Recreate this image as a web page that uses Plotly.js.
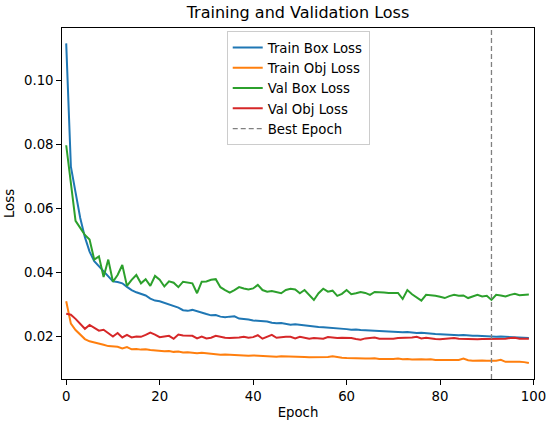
<!DOCTYPE html>
<html>
<head>
<meta charset="utf-8">
<script src="https://cdn.plot.ly/plotly-3.0.1.min.js"></script>
<style>html,body{margin:0;padding:0;background:#fff;}#chart{width:550px;height:425px;}</style>
</head>
<body>
<div id="chart"></div>
<script>
const epochs = Array.from({length: 100}, (_, i) => i);

const trainBoxLoss = [
0.1115,0.0730,0.0650,0.0570,0.0510,0.0465,0.0435,0.0420,0.0405,0.0390,
0.0372,0.0370,0.0366,0.0355,0.0345,0.0338,0.0332,0.0328,0.0318,0.0312,
0.0310,0.0305,0.0300,0.0296,0.0290,0.0282,0.0280,0.0283,0.0278,0.0274,
0.0270,0.0266,0.0267,0.0262,0.0260,0.0262,0.0263,0.0256,0.0255,0.0253,
0.0250,0.0249,0.0246,0.0247,0.0243,0.0241,0.0242,0.0240,0.0237,0.0238,
0.0236,0.0235,0.0233,0.0231,0.0230,0.0229,0.0228,0.0228,0.0226,0.0225,
0.0223,0.0221,0.0222,0.0220,0.0219,0.0220,0.0218,0.0216,0.0217,0.0215,
0.0214,0.0214,0.0213,0.0214,0.0212,0.0211,0.0212,0.0210,0.0209,0.0208,
0.0207,0.0206,0.0206,0.0205,0.0204,0.0205,0.0203,0.0202,0.0202,0.0201,
0.0200,0.0200,0.0199,0.0200,0.0199,0.0198,0.0199,0.0197,0.0196,0.0195];

const trainObjLoss = [
0.0310,0.0240,0.0220,0.0205,0.0192,0.0185,0.0182,0.0178,0.0174,0.0170,
0.0168,0.0168,0.0163,0.0167,0.0160,0.0161,0.0159,0.0160,0.0158,0.0156,
0.0155,0.0154,0.0155,0.0152,0.0153,0.0150,0.0151,0.0149,0.0148,0.0149,
0.0147,0.0146,0.0145,0.0143,0.0144,0.0143,0.0142,0.0143,0.0141,0.0140,
0.0141,0.0140,0.0139,0.0138,0.0139,0.0137,0.0138,0.0138,0.0137,0.0136,
0.0137,0.0136,0.0135,0.0135,0.0134,0.0135,0.0136,0.0138,0.0135,0.0134,
0.0133,0.0132,0.0133,0.0132,0.0131,0.0131,0.0132,0.0130,0.0131,0.0130,
0.0130,0.0131,0.0129,0.0130,0.0128,0.0129,0.0129,0.0128,0.0129,0.0127,
0.0128,0.0127,0.0127,0.0126,0.0127,0.0131,0.0126,0.0124,0.0125,0.0125,
0.0124,0.0123,0.0124,0.0127,0.0121,0.0121,0.0122,0.0121,0.0120,0.0117];

const valBoxLoss = [
0.0797,0.0680,0.0561,0.0539,0.0517,0.0503,0.0440,0.0450,0.0386,0.0440,
0.0371,0.0392,0.0423,0.0358,0.0377,0.0392,0.0366,0.0379,0.0358,0.0389,
0.0377,0.0356,0.0372,0.0368,0.0354,0.0371,0.0368,0.0366,0.0335,0.0371,
0.0372,0.0377,0.0379,0.0354,0.0345,0.0337,0.0345,0.0354,0.0350,0.0347,
0.0350,0.0361,0.0345,0.0340,0.0342,0.0338,0.0335,0.0345,0.0349,0.0347,
0.0335,0.0345,0.0330,0.0314,0.0335,0.0349,0.0340,0.0343,0.0327,0.0333,
0.0345,0.0332,0.0335,0.0339,0.0336,0.0330,0.0339,0.0337,0.0337,0.0336,
0.0335,0.0336,0.0317,0.0345,0.0332,0.0322,0.0312,0.0330,0.0329,0.0327,
0.0324,0.0320,0.0326,0.0330,0.0327,0.0328,0.0320,0.0325,0.0330,0.0325,
0.0327,0.0314,0.0330,0.0328,0.0325,0.0330,0.0333,0.0329,0.0330,0.0331];

const valObjLoss = [
0.0271,0.0268,0.0255,0.0240,0.0224,0.0236,0.0226,0.0218,0.0221,0.0211,
0.0200,0.0211,0.0197,0.0205,0.0197,0.0200,0.0199,0.0205,0.0212,0.0206,
0.0198,0.0200,0.0202,0.0193,0.0206,0.0203,0.0202,0.0202,0.0194,0.0200,
0.0194,0.0196,0.0202,0.0198,0.0196,0.0195,0.0195,0.0197,0.0199,0.0196,
0.0198,0.0204,0.0193,0.0198,0.0205,0.0196,0.0198,0.0199,0.0199,0.0194,
0.0199,0.0196,0.0193,0.0195,0.0194,0.0193,0.0198,0.0196,0.0195,0.0196,
0.0196,0.0195,0.0192,0.0190,0.0194,0.0195,0.0197,0.0193,0.0193,0.0192,
0.0193,0.0195,0.0195,0.0195,0.0197,0.0199,0.0194,0.0196,0.0193,0.0192,
0.0191,0.0193,0.0194,0.0195,0.0193,0.0192,0.0193,0.0192,0.0191,0.0192,
0.0192,0.0192,0.0191,0.0192,0.0193,0.0195,0.0196,0.0193,0.0194,0.0193];

const bestEpoch = [91];

const seriesNames = ["Train Box Loss", "Train Obj Loss", "Val Box Loss", "Val Obj Loss"];
const seriesData = [trainBoxLoss, trainObjLoss, valBoxLoss, valObjLoss];
const seriesColors = ["#1f77b4", "#ff7f0e", "#2ca02c", "#d62728"];

const xTicks = [0, 20, 40, 60, 80, 100];
const yTicks = [0.02, 0.04, 0.06, 0.08, 0.10];

const traces = seriesData.map((ys, i) => ({
  x: epochs, y: ys, type: "scatter", mode: "lines", name: seriesNames[i],
  line: {color: seriesColors[i], width: 2}
}));

const FONT = "DejaVu Sans, sans-serif";

const layout = {
  width: 550, height: 425,
  margin: {l: 62, r: 16, t: 28, b: 46},
  paper_bgcolor: "#fff", plot_bgcolor: "#fff",
  font: {family: FONT, size: 13.3, color: "#000"},
  title: {text: "Training and Validation Loss", font: {family: FONT, size: 16, color: "#000"},
          x: 0.5417, xanchor: "center", y: 0.970, yanchor: "middle"},
  xaxis: {
    range: [-0.9, 100.1], tickvals: xTicks, ticktext: xTicks.map(String),
    showgrid: false, zeroline: false, showline: true, mirror: true, linecolor: "#000", linewidth: 1.07,
    ticks: "outside", ticklen: 4.7, tickwidth: 1.07, tickcolor: "#000", tickfont: {size: 13.3},
    title: {text: "Epoch", font: {size: 13.3}, standoff: 4}
  },
  yaxis: {
    range: [0.00673, 0.1163], tickvals: yTicks, ticktext: yTicks.map(v => v.toFixed(2)),
    showgrid: false, zeroline: false, showline: true, mirror: true, linecolor: "#000", linewidth: 1.07,
    ticks: "outside", ticklen: 4.7, tickwidth: 1.07, tickcolor: "#000", tickfont: {size: 13.3},
    title: {text: "Loss", font: {size: 13.3}, standoff: 6}
  },
  legend: {
    x: 0.349, y: 0.9905, xanchor: "left", yanchor: "top",
    bgcolor: "rgba(255,255,255,0.8)", bordercolor: "#cccccc", borderwidth: 1,
    font: {size: 13.3}, tracegroupgap: 0
  },
  shapes: bestEpoch.map(b => ({
    type: "line", xref: "x", yref: "paper", x0: b, x1: b, y0: 0, y1: 1,
    line: {color: "#808080", width: 1.3, dash: "5px,3px"},
    showlegend: true, name: "Best Epoch", legendrank: 2000
  })),
  showlegend: true
};

Plotly.newPlot("chart", traces, layout, {displayModeBar: false, staticPlot: true});
</script>
</body>
</html>
